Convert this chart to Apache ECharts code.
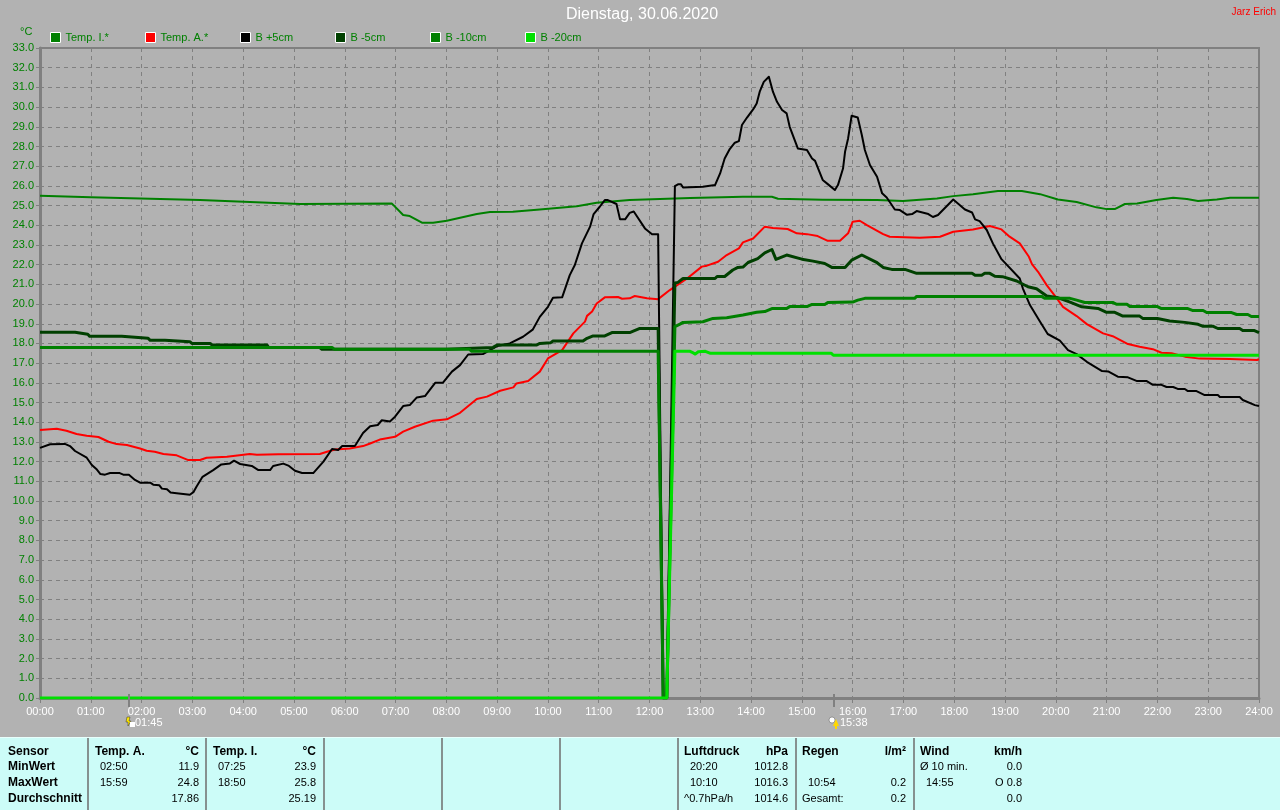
<!DOCTYPE html>
<html><head><meta charset="utf-8">
<style>html,body{margin:0;padding:0;background:#b2b2b2}#c{width:1280px;height:810px}</style>
<script src="https://cdn.jsdelivr.net/npm/echarts@6/dist/echarts.min.js"></script>
</head><body><div id="c"></div>
<script>
const titleText='Dienstag, 30.06.2020';
const authorText='Jarz Erich';
const names=['Temp. I.*','Temp. A.*','B +5cm','B -5cm','B -10cm','B -20cm'];
const colors=['#008000','#ff0000','#000000','#004000','#008000','#00e000'];
const widths=[2,2,2,3,3,3];
const tempI=[[0,25.5],[1,25.42],[3.15,25.28],[5.12,25.08],[6.93,25.1],[7.15,24.52],[7.28,24.47],[7.52,24.13],[7.74,24.13],[8.01,24.23],[8.6,24.57],[8.86,24.67],[9.31,24.69],[9.84,24.8],[10.57,24.97],[10.96,25.14],[11.61,25.28],[12.8,25.38],[13.84,25.45],[14.41,25.45],[14.53,25.35],[15.41,25.3],[16.48,25.28],[16.99,25.23],[17.66,25.36],[17.98,25.48],[18.37,25.57],[18.86,25.74],[19.33,25.74],[19.69,25.58],[20.04,25.31],[20.41,25.18],[20.8,24.91],[21,24.82],[21.16,24.82],[21.36,25.08],[21.6,25.1],[21.98,25.28],[22.31,25.4],[22.58,25.33],[22.8,25.23],[23.17,25.31],[23.43,25.4],[24,25.4]];
const tempA=[[0,13.6],[0.33,13.67],[0.52,13.57],[0.72,13.4],[0.92,13.31],[1.15,13.25],[1.35,13.01],[1.51,12.89],[1.71,12.84],[1.97,12.67],[2.1,12.55],[2.26,12.5],[2.43,12.39],[2.69,12.32],[2.92,12.08],[3.15,12.08],[3.28,12.2],[3.68,12.25],[4.13,12.39],[4.27,12.35],[4.69,12.37],[5.51,12.39],[5.65,12.5],[5.81,12.62],[6.1,12.67],[6.36,12.79],[6.5,12.92],[6.69,13.12],[6.99,13.26],[7.15,13.52],[7.38,13.77],[7.74,14.08],[8.01,14.15],[8.27,14.48],[8.6,15.18],[8.8,15.3],[9.06,15.6],[9.32,15.77],[9.38,15.97],[9.61,16.09],[9.84,16.57],[10,17.24],[10.28,17.66],[10.5,18.51],[10.73,19.11],[10.77,19.4],[10.87,19.62],[10.96,20.03],[11.12,20.34],[11.38,20.36],[11.46,20.27],[11.61,20.29],[11.71,20.41],[11.95,20.29],[12.17,20.25],[12.4,20.71],[12.74,21.3],[13.03,21.9],[13.13,21.95],[13.35,22.15],[13.52,22.49],[13.76,22.83],[13.84,23.13],[14.04,23.33],[14.27,23.93],[14.43,23.86],[14.72,23.81],[14.9,23.59],[15.1,23.55],[15.31,23.45],[15.51,23.21],[15.75,23.21],[15.91,23.59],[16,24.18],[16.14,24.23],[16.28,24.01],[16.6,23.55],[16.73,23.42],[17.32,23.37],[17.72,23.42],[17.98,23.67],[18.37,23.79],[18.7,23.96],[18.93,23.79],[19.09,23.42],[19.29,23.08],[19.47,22.4],[19.53,22.03],[19.65,21.64],[19.82,20.96],[20.02,20.29],[20.14,19.86],[20.41,19.39],[20.61,18.98],[20.93,18.51],[21.12,18.37],[21.42,17.97],[21.65,17.83],[21.91,17.71],[22.08,17.53],[22.28,17.5],[22.54,17.33],[22.83,17.23],[23.43,17.21],[23.96,17.16],[24,17.2]];
const bPlus5=[[0,12.7],[0.2,12.88],[0.49,12.9],[0.59,12.79],[0.69,12.54],[0.92,12.2],[1.02,11.83],[1.12,11.6],[1.19,11.37],[1.28,11.34],[1.38,11.42],[1.57,11.42],[1.64,11.34],[1.75,11.33],[1.87,11.07],[1.97,10.93],[2.17,10.93],[2.23,10.83],[2.35,10.8],[2.4,10.63],[2.5,10.6],[2.57,10.43],[2.69,10.4],[2.72,10.32],[2.95,10.32],[3.02,10.45],[3.08,10.73],[3.2,11.23],[3.41,11.57],[3.57,11.86],[3.74,11.91],[3.82,12.05],[3.94,11.88],[4.17,11.78],[4.3,11.57],[4.53,11.57],[4.59,11.78],[4.79,11.9],[4.89,11.8],[5.02,11.54],[5.16,11.42],[5.38,11.42],[5.58,12],[5.75,12.64],[5.87,12.59],[5.95,12.79],[6.2,12.79],[6.36,13.45],[6.5,13.8],[6.65,13.86],[6.73,14.1],[6.89,14.04],[6.99,14.28],[7.15,14.82],[7.28,14.87],[7.42,15.26],[7.58,15.33],[7.78,16],[7.93,16],[8.11,16.57],[8.27,16.9],[8.43,17.44],[8.72,17.46],[9,17.87],[9.25,18],[9.51,18.34],[9.7,18.7],[9.84,19.35],[10,19.86],[10.1,20.32],[10.28,20.34],[10.43,21.47],[10.53,21.98],[10.67,23.08],[10.83,23.93],[10.9,24.57],[11.02,24.94],[11.12,25.28],[11.18,25.28],[11.35,25.08],[11.42,24.3],[11.52,24.3],[11.61,24.63],[11.69,24.7],[11.91,23.84],[12.05,23.54],[12.17,23.54],[12.27,0],[12.34,0],[12.5,25.99],[12.56,26.08],[12.62,26.08],[12.66,25.92],[13.05,25.95],[13.29,26.04],[13.39,26.63],[13.48,27.39],[13.58,27.87],[13.68,28.19],[13.76,28.27],[13.82,29.09],[13.92,29.47],[14.04,29.88],[14.11,30.18],[14.17,30.78],[14.25,31.28],[14.35,31.54],[14.43,30.78],[14.51,30.27],[14.61,29.85],[14.7,29.68],[14.76,29],[14.92,27.9],[15.1,27.82],[15.2,27.39],[15.26,27.27],[15.41,26.3],[15.51,26.09],[15.65,25.79],[15.71,26.04],[15.81,26.88],[15.85,27.73],[15.91,28.41],[15.98,29.56],[16.1,29.47],[16.18,28.58],[16.24,27.82],[16.34,27.06],[16.48,26.46],[16.58,25.62],[16.67,25.41],[16.83,24.8],[16.93,24.77],[17.07,24.53],[17.17,24.57],[17.26,24.72],[17.49,24.57],[17.58,24.42],[17.68,24.52],[17.98,25.31],[18.21,24.8],[18.35,24.65],[18.41,24.3],[18.5,24.21],[18.64,23.76],[18.76,23.08],[18.93,22.28],[19.29,21.3],[19.35,20.8],[19.49,19.95],[19.69,19.1],[19.84,18.48],[20.08,18.14],[20.24,17.66],[20.41,17.46],[20.61,17.07],[20.91,16.6],[21.03,16.58],[21.22,16.31],[21.42,16.28],[21.6,16.09],[21.79,16.09],[21.91,15.9],[22.08,15.9],[22.18,15.79],[22.31,15.79],[22.4,15.69],[22.54,15.69],[22.6,15.58],[22.77,15.58],[22.93,15.38],[23.19,15.38],[23.23,15.28],[23.62,15.28],[23.68,15.13],[23.92,14.87],[24,14.82]];
const bMinus5=[[0,18.57],[0.69,18.57],[0.72,18.47],[0.94,18.47],[0.98,18.36],[1.61,18.36],[1.64,18.26],[2.13,18.26],[2.17,18.16],[2.46,18.16],[2.48,18.09],[2.95,18.09],[2.99,18],[3.35,18],[3.39,17.92],[4.47,17.92],[4.5,17.8],[5.5,17.8],[5.55,17.7],[6.98,17.7],[7,17.6],[7.1,17.7],[8,17.7],[8.03,17.8],[8.92,17.8],[9,17.92],[9.78,17.92],[9.84,18],[10.05,18.03],[10.1,18.12],[10.69,18.12],[10.77,18.26],[10.89,18.38],[11.12,18.38],[11.26,18.55],[11.61,18.55],[11.81,18.76],[12.17,18.76],[12.27,0],[12.34,0],[12.5,21.07],[12.56,21.1],[12.66,21.3],[13.29,21.3],[13.33,21.4],[13.48,21.4],[13.64,21.73],[13.74,21.86],[13.84,21.88],[13.94,22.11],[14.13,22.31],[14.27,22.6],[14.41,22.77],[14.49,22.27],[14.7,22.49],[15,22.28],[15.22,22.18],[15.45,22.06],[15.59,21.86],[15.85,21.86],[15.98,22.23],[16.18,22.49],[16.48,22.1],[16.6,21.86],[16.77,21.76],[17.03,21.76],[17.26,21.56],[18.35,21.56],[18.41,21.46],[18.54,21.46],[18.6,21.56],[18.7,21.56],[18.8,21.41],[18.95,21.39],[19.23,21.17],[19.45,20.88],[19.62,20.78],[19.82,20.41],[20.02,20.34],[20.28,20.1],[20.51,19.86],[20.83,19.78],[21,19.58],[21.16,19.58],[21.32,19.39],[21.65,19.39],[21.71,19.27],[22,19.27],[22.24,19.14],[22.54,19.07],[22.8,18.97],[22.9,18.87],[23.1,18.87],[23.19,18.76],[23.62,18.76],[23.68,18.66],[23.9,18.66],[24,18.55]];
const bMinus10=[[0,17.8],[5.75,17.8],[5.8,17.7],[8.46,17.7],[8.5,17.6],[12.17,17.6],[12.27,0],[12.34,0],[12.5,18.85],[12.6,18.98],[12.66,19.07],[13.05,19.1],[13.25,19.27],[13.52,19.3],[13.84,19.44],[14.11,19.58],[14.27,19.62],[14.41,19.77],[14.7,19.77],[14.76,19.87],[15.1,19.87],[15.2,19.98],[15.45,19.98],[15.51,20.08],[16,20.1],[16.1,20.2],[16.24,20.29],[17.22,20.29],[17.26,20.39],[19.72,20.39],[19.78,20.29],[20.28,20.29],[20.41,20.2],[20.57,20.08],[21.12,20.08],[21.2,19.99],[21.4,19.99],[21.46,19.87],[22,19.87],[22.08,19.77],[22.6,19.77],[22.7,19.67],[22.9,19.67],[22.97,19.57],[23.46,19.57],[23.56,19.47],[23.78,19.47],[23.85,19.37],[24,19.37]];
const bMinus20=[[0,0],[12.34,0],[12.5,17.6],[12.8,17.6],[12.84,17.55],[12.9,17.46],[12.96,17.58],[13.1,17.6],[13.2,17.5],[15.58,17.5],[15.62,17.4],[24,17.4]];
const allData=[tempI,tempA,bPlus5,bMinus5,bMinus10,bMinus20];
const legendLeft=[50,145,240,335,430,525];
const sunEvents=[{hour:1.75,label:'01:45',kind:'rise'},{hour:15.63,label:'15:38',kind:'set'}];
const dividers=[88,206,324,442,560,678,796,914];
const tableBold=[['Sensor',8,752,'left'],['MinWert',8,767,'left'],['MaxWert',8,783,'left'],['Durchschnitt',8,799,'left'],
['Temp. A.',95,752,'left'],['°C',199,752,'right'],['Temp. I.',213,752,'left'],['°C',316,752,'right'],
['Luftdruck',684,752,'left'],['hPa',788,752,'right'],['Regen',802,752,'left'],['l/m²',906,752,'right'],['Wind',920,752,'left'],['km/h',1022,752,'right']];
const tablePlain=[['02:50',100,767,'left'],['11.9',199,767,'right'],['15:59',100,783,'left'],['24.8',199,783,'right'],['17.86',199,799,'right'],
['07:25',218,767,'left'],['23.9',316,767,'right'],['18:50',218,783,'left'],['25.8',316,783,'right'],['25.19',316,799,'right'],
['20:20',690,767,'left'],['1012.8',788,767,'right'],['10:10',690,783,'left'],['1016.3',788,783,'right'],['^0.7hPa/h',684,799,'left'],['1014.6',788,799,'right'],
['10:54',808,783,'left'],['0.2',906,783,'right'],['Gesamt:',802,799,'left'],['0.2',906,799,'right'],
['Ø 10 min.',920,767,'left'],['0.0',1022,767,'right'],['14:55',926,783,'left'],['O 0.8',1022,783,'right'],['0.0',1022,799,'right']];
const FONT='"Liberation Sans",Arial,sans-serif';
const chart=echarts.init(document.getElementById('c'),null,{renderer:'canvas'});
const txt=(t,x,y,align,fill,size,weight)=>({type:'text',x:x,y:y,silent:true,z:20,style:{text:t,textAlign:align,textVerticalAlign:'middle',fill:fill,font:(weight||'normal')+' '+size+'px '+FONT}});
const graphics=[
 {type:'rect',x:0,y:737,z:10,silent:true,shape:{x:0,y:0,width:1280,height:73},style:{fill:'#ccfcf8'}},
 {type:'line',z:11,silent:true,shape:{x1:0,y1:737.5,x2:1280,y2:737.5},style:{stroke:'#e8fffc',lineWidth:1}},
 ...dividers.map(d=>({type:'line',z:11,silent:true,shape:{x1:d,y1:738,x2:d,y2:810},style:{stroke:'#6e6e6e',lineWidth:1.5}})),
 ...tableBold.map(r=>txt(r[0],r[1],r[2],r[3],'#000',12,'bold')),
 ...tablePlain.map(r=>txt(r[0],r[1],r[2],r[3],'#000',11)),
 txt(titleText,642,15,'center','#ffffff',16),
 txt(authorText,1276,12,'right','#ff0000',10),
 txt('°C',20,32,'left','#008000',11)
];
chart.setOption({
 animation:false,backgroundColor:'#b2b2b2',textStyle:{fontFamily:FONT},
 grid:{left:40,right:21,top:48,bottom:112,show:true,borderColor:'#808080',borderWidth:2,backgroundColor:'transparent',containLabel:false},
 legend:names.map((n,i)=>({left:legendLeft[i],top:32,data:[n],itemWidth:10,itemHeight:10,itemGap:5,icon:'rect',padding:0,
   selectedMode:false,textStyle:{color:'#008000',fontSize:11,fontFamily:FONT,padding:[1,0,0,0]},
   itemStyle:{borderColor:'#ffffff',borderWidth:1}})),
 xAxis:{type:'value',min:0,max:24,interval:1,
   axisLine:{show:true,onZero:false,lineStyle:{color:'#808080',width:3}},
   axisTick:{show:true,length:5,lineStyle:{color:'#808080',width:1}},
   axisLabel:{color:'#ffffff',fontSize:11,margin:8,fontFamily:FONT,showMinLabel:true,showMaxLabel:true,hideOverlap:false,
     formatter:v=>String(v).padStart(2,'0')+':00'},
   splitLine:{show:true,lineStyle:{color:'#808080',type:[4,4],width:1}}},
 yAxis:{type:'value',min:0,max:33,interval:1,
   axisLine:{show:true,onZero:false,lineStyle:{color:'#808080',width:3}},
   axisTick:{show:true,length:4,lineStyle:{color:'#808080',width:1}},
   axisLabel:{color:'#008000',fontSize:11,margin:6,fontFamily:FONT,padding:[2,0,0,0],formatter:v=>v.toFixed(1)},
   splitLine:{show:true,lineStyle:{color:'#808080',type:[4,4],width:1}}},
 series:names.map((n,i)=>({name:n,type:'line',data:allData[i],symbol:'none',smooth:false,z:3+i,
   lineStyle:{color:colors[i],width:widths[i],join:'round'},itemStyle:{color:colors[i]}})),
 graphic:graphics
});
// Sun rise / set marks placed through the chart's own x scale.
const sunG=[];
sunEvents.forEach(e=>{
 const p=chart.convertToPixel({xAxisIndex:0},e.hour);
 const x=Math.round(p);
 sunG.push({type:'line',z:12,silent:true,shape:{x1:x,y1:694,x2:x,y2:707},style:{stroke:'#808080',lineWidth:2}});
 if(e.kind==='rise'){
  sunG.push({type:'polygon',z:12,silent:true,shape:{points:[[x-2,717],[x+1,717],[x,721],[x+2,721],[x-1,726],[x-1,722],[x-3,722]]},style:{fill:'#ffe800',stroke:'#333',lineWidth:0.5}});
  sunG.push({type:'rect',z:12,silent:true,shape:{x:x+1,y:722,width:5,height:5},style:{fill:'#ffffff'}});
 } else {
  sunG.push({type:'circle',z:12,silent:true,shape:{cx:x-2,cy:720,r:3},style:{fill:'#ffffff',stroke:'#555',lineWidth:0.5}});
  sunG.push({type:'polygon',z:12,silent:true,shape:{points:[[x+2,719],[x+5,726],[x+3,726],[x+3,729],[x+1,729],[x+1,726],[x-1,726]]},style:{fill:'#ffd800'}});
 }
 sunG.push(txt(e.label,x+6,723,'left','#ffffff',11));
});
chart.setOption({graphic:graphics.concat(sunG)});
</script></body></html>
